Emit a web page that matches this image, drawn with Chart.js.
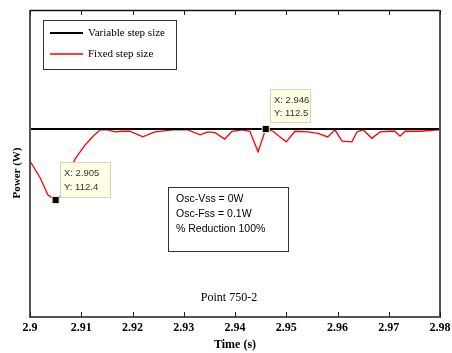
<!DOCTYPE html>
<html>
<head>
<meta charset="utf-8">
<script src="https://cdn.jsdelivr.net/npm/chart.js@4.4.0/dist/chart.umd.min.js"></script>
<style>
  html, body { margin: 0; padding: 0; background: #fff; }
  canvas { display: block; }
</style>
</head>
<body>
<canvas id="powerChart" width="452" height="353"></canvas>
<script>
// Time axis ticks (s)
const timeTicks = [2.9, 2.91, 2.92, 2.93, 2.94, 2.95, 2.96, 2.97, 2.98];

// Variable step size run: flat output power
const variableTime = [2.9, 2.98];
const variablePower = [112.5, 112.5];

// Fixed step size run
const fixedTime = [
  2.9, 2.902, 2.9035, 2.905, 2.906, 2.9072, 2.9088, 2.9107, 2.9123, 2.9137,
  2.9152, 2.9166, 2.918, 2.9195, 2.922, 2.9244, 2.9279, 2.9308, 2.9332, 2.9347,
  2.9361, 2.938, 2.9394, 2.9414, 2.9429, 2.9445, 2.946, 2.9474, 2.9488, 2.95,
  2.9517, 2.9542, 2.9562, 2.9581, 2.9595, 2.9609, 2.9628, 2.9638, 2.965, 2.9667,
  2.9683, 2.9702, 2.9712, 2.9722, 2.9732, 2.9761, 2.9796, 2.98
];
const fixedPower = [
  112.455, 112.431, 112.407, 112.4, 112.406, 112.431, 112.458, 112.477, 112.49, 112.499,
  112.499, 112.496, 112.497, 112.497, 112.489, 112.496, 112.499, 112.499, 112.492, 112.496,
  112.495, 112.486, 112.497, 112.499, 112.497, 112.468, 112.5, 112.497, 112.489, 112.482,
  112.497, 112.496, 112.494, 112.489, 112.499, 112.483, 112.482, 112.496, 112.499, 112.487,
  112.496, 112.497, 112.497, 112.49, 112.497, 112.497, 112.499, 112.499
];

// Data tips
const tipTime = [2.905, 2.946];
const tipPower = [112.4, 112.5];

const noteLines = ['Osc-Vss = 0W', 'Osc-Fss = 0.1W', '% Reduction 100%'];
const pointLabel = 'Point 750-2';
const yTitle = 'Power (W)';

const toXY = (xs, ys) => xs.map((t, i) => ({ x: t, y: ys[i] }));

// Frame, inside ticks, legend, text boxes and data tips
const annotations = {
  id: 'annotations',
  afterDraw(chart) {
    const { ctx, chartArea: a, scales: { x, y } } = chart;
    ctx.save();

    // axes box
    ctx.lineWidth = 1.5;
    ctx.strokeStyle = '#111';
    ctx.beginPath();
    ctx.moveTo(a.left, a.top + 0.5);
    ctx.lineTo(a.right, a.top + 0.5);
    ctx.stroke();
    ctx.lineWidth = 2;
    ctx.strokeStyle = '#555';
    ctx.beginPath();
    ctx.moveTo(a.left, a.top);
    ctx.lineTo(a.left, a.bottom);
    ctx.lineTo(a.right, a.bottom);
    ctx.lineTo(a.right, a.top);
    ctx.stroke();

    // tick marks pointing inward
    ctx.lineWidth = 1;
    ctx.strokeStyle = '#222';
    timeTicks.forEach(t => {
      const px = Math.round(x.getPixelForValue(t)) + 0.5;
      ctx.beginPath();
      ctx.moveTo(px, a.bottom);
      ctx.lineTo(px, a.bottom - 5);
      ctx.moveTo(px, a.top);
      ctx.lineTo(px, a.top + 5);
      ctx.stroke();
    });

    // y axis title
    ctx.save();
    ctx.translate(17, 173);
    ctx.rotate(-Math.PI / 2);
    ctx.font = 'bold 11px "Liberation Serif"';
    ctx.fillStyle = '#000';
    ctx.textAlign = 'center';
    ctx.textBaseline = 'middle';
    ctx.fillText(yTitle, 0, 0);
    ctx.restore();

    // legend
    const lx = a.left + 13, ly = a.top + 10;
    ctx.fillStyle = '#fff';
    ctx.fillRect(lx, ly, 133, 49);
    ctx.lineWidth = 1;
    ctx.strokeStyle = '#333';
    ctx.strokeRect(lx + 0.5, ly + 0.5, 133, 49);
    ctx.font = '11px "Liberation Serif"';
    ctx.textBaseline = 'middle';
    ctx.textAlign = 'left';
    const legendItems = chart.data.datasets.filter(d => d.inLegend);
    legendItems.forEach((d, i) => {
      const yy = ly + 13 + i * 21;
      ctx.strokeStyle = d.borderColor;
      ctx.lineWidth = d.borderWidth;
      ctx.beginPath();
      ctx.moveTo(lx + 7, yy);
      ctx.lineTo(lx + 40, yy);
      ctx.stroke();
      ctx.fillStyle = '#000';
      ctx.fillText(d.label, lx + 45, yy);
    });

    // results box
    const bx = a.left + 138, by = a.top + 177;
    ctx.fillStyle = '#fff';
    ctx.fillRect(bx, by, 120, 64);
    ctx.strokeStyle = '#333';
    ctx.lineWidth = 1;
    ctx.strokeRect(bx + 0.5, by + 0.5, 120, 64);
    ctx.fillStyle = '#000';
    ctx.font = '10.5px "Liberation Sans"';
    noteLines.forEach((s, i) => ctx.fillText(s, bx + 8, by + 12 + i * 15));

    // point label
    ctx.font = '12px "Liberation Serif"';
    ctx.textAlign = 'center';
    ctx.fillText(pointLabel, a.left + 199, a.top + 288);

    // data tips
    const tipBoxes = [
      { dx: 4, dy: -38, w: 50, h: 35 },
      { dx: 4, dy: -40, w: 40, h: 33 }
    ];
    ctx.font = '9.5px "Liberation Sans"';
    ctx.textAlign = 'left';
    tipTime.forEach((t, i) => {
      const px = x.getPixelForValue(t), py = y.getPixelForValue(tipPower[i]);
      const b = tipBoxes[i];
      const tx = Math.round(px + b.dx), ty = Math.round(py + b.dy);
      ctx.fillStyle = '#ffffe6';
      ctx.fillRect(tx, ty, b.w, b.h);
      ctx.strokeStyle = '#d8d4bc';
      ctx.strokeRect(tx + 0.5, ty + 0.5, b.w, b.h);
      ctx.fillStyle = '#333';
      ctx.fillText('X: ' + t.toFixed(3), tx + 4, ty + b.h * 0.33);
      ctx.fillText('Y: ' + tipPower[i].toFixed(1), tx + 4, ty + b.h * 0.73);
    });

    ctx.restore();
  }
};

new Chart(document.getElementById('powerChart'), {
  type: 'line',
  data: {
    datasets: [
      {
        label: 'tips',
        data: toXY(tipTime, tipPower),
        showLine: false,
        pointStyle: 'rect',
        pointRadius: 5,
        backgroundColor: '#000',
        borderColor: '#f4f0c8',
        borderWidth: 1,
        order: 0
      },
      {
        label: 'Variable step size',
        inLegend: true,
        data: toXY(variableTime, variablePower),
        borderColor: '#000',
        borderWidth: 2,
        pointRadius: 0,
        order: 1
      },
      {
        label: 'Fixed step size',
        inLegend: true,
        data: toXY(fixedTime, fixedPower),
        borderColor: '#ff0000',
        borderWidth: 1.3,
        pointRadius: 0,
        tension: 0,
        order: 2
      }
    ]
  },
  options: {
    responsive: false,
    devicePixelRatio: 1,
    animation: false,
    layout: { padding: { left: 30, top: 10, right: 12, bottom: 0 } },
    plugins: {
      legend: { display: false },
      tooltip: { enabled: false }
    },
    scales: {
      x: {
        type: 'linear',
        min: 2.9,
        max: 2.98,
        afterBuildTicks: scale => { scale.ticks = timeTicks.map(v => ({ value: v })); },
        afterFit: scale => {
          scale.height = 36;
          scale.paddingLeft = 0;
          scale.paddingRight = 0;
        },
        grid: { display: false, drawTicks: false },
        border: { display: false },
        ticks: {
          padding: 4,
          color: '#000',
          font: { family: 'Liberation Serif', size: 12, weight: 'bold' },
          callback: v => String(Number(v.toFixed(2)))
        },
        title: {
          display: true,
          text: 'Time (s)',
          color: '#000',
          font: { family: 'Liberation Serif', size: 12, weight: 'bold' },
          padding: { top: 0, bottom: 1 }
        }
      },
      y: {
        display: false,
        min: 112.235,
        max: 112.668
      }
    }
  },
  plugins: [annotations]
});
</script>
</body>
</html>
